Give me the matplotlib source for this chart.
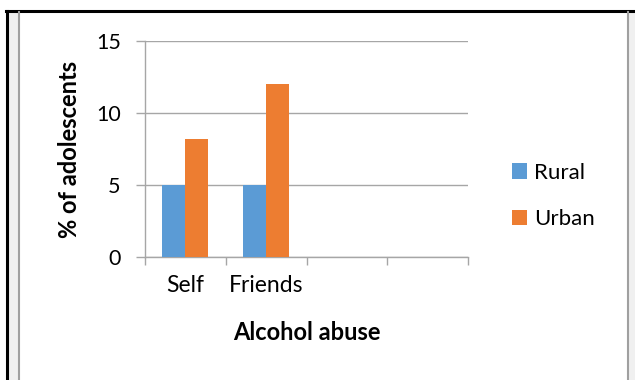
import numpy as np
import matplotlib.pyplot as plt
from matplotlib.patches import Rectangle
from matplotlib.lines import Line2D

# data
categories = ['Self', 'Friends', '', '']
rural = [5, 5]
urban = [8.2, 12]
yticks = [0, 5, 10, 15]

blue = '#5B9BD5'
orange = '#ED7D31'
grey = '#A6A6A6'

plt.rcParams['font.family'] = ['Lato', 'DejaVu Sans']

W, H = 635, 380
fig = plt.figure(figsize=(W / 100, H / 100), dpi=100)

def fx(x):
    return x / W

def fy(y):
    return 1 - y / H

# outer frame: black edge, light grey band, grey inner border
fig.patches.append(Rectangle((fx(7), 0), fx(11), fy(11), transform=fig.transFigure,
                             facecolor='#F0F0F0', edgecolor='none'))
fig.patches.append(Rectangle((fx(628), 0), fx(7), fy(11), transform=fig.transFigure,
                             facecolor='#F0F0F0', edgecolor='none'))
fig.add_artist(Line2D([fx(7), fx(7)], [0, fy(11)], color='black', lw=2.2))
fig.add_artist(Line2D([fx(6), 1], [fy(11), fy(11)], color='black', lw=2.2))
fig.add_artist(Line2D([fx(18.5), fx(18.5)], [0, fy(12)], color='#A0A0A0', lw=1.5))
fig.add_artist(Line2D([fx(627.5), fx(627.5)], [0, fy(12)], color='#A0A0A0', lw=1.5))

# plot area
left, right, top, bottom = 145, 468, 41, 257
ax = fig.add_axes([fx(left), fy(bottom), fx(right - left), (bottom - top) / H])

n = len(categories)
w = 23 / ((right - left) / n)
x = np.arange(len(rural)) + 0.5
ax.bar(x - w / 2, rural, width=w, color=blue, label='Rural', zorder=3)
ax.bar(x + w / 2, urban, width=w, color=orange, label='Urban', zorder=3)

ax.set_xlim(0, n)
ax.set_ylim(0, 15)
ax.set_yticks(yticks)
ax.yaxis.grid(True, color=grey, lw=1)
ax.set_axisbelow(True)

# category boundaries get the tick marks, names sit in between
ax.set_xticks(np.arange(n + 1))
ax.set_xticklabels([])
ax.set_xticks(np.arange(n) + 0.5, minor=True)
ax.set_xticklabels(categories, minor=True)
ax.tick_params(axis='x', which='minor', length=0, labelsize=16.5, pad=13)
ax.tick_params(axis='x', which='major', length=6, color=grey, width=1)
ax.tick_params(axis='y', length=6.5, color=grey, width=1, labelsize=15.5, pad=11)

for s in ['top', 'right']:
    ax.spines[s].set_visible(False)
for s in ['left', 'bottom']:
    ax.spines[s].set_color(grey)
    ax.spines[s].set_linewidth(1)

ax.set_xlabel('Alcohol abuse', fontsize=17, fontweight='bold')
ax.xaxis.set_label_coords(0.5, (bottom - 333) / (bottom - top))
ax.xaxis.label.set_va('center')
ax.set_ylabel('% of adolescents', fontsize=17, fontweight='bold')
ax.yaxis.set_label_coords((70 - left) / (right - left), 0.5)
ax.yaxis.label.set_va('center')

fig.legend(loc='center left', bbox_to_anchor=(fx(512), fy(196)), frameon=False,
           borderpad=0, borderaxespad=0, fontsize=16, handlelength=0.68,
           handleheight=0.68, handletextpad=0.3, labelspacing=1.2)

fig.savefig('out.png', dpi=100)
